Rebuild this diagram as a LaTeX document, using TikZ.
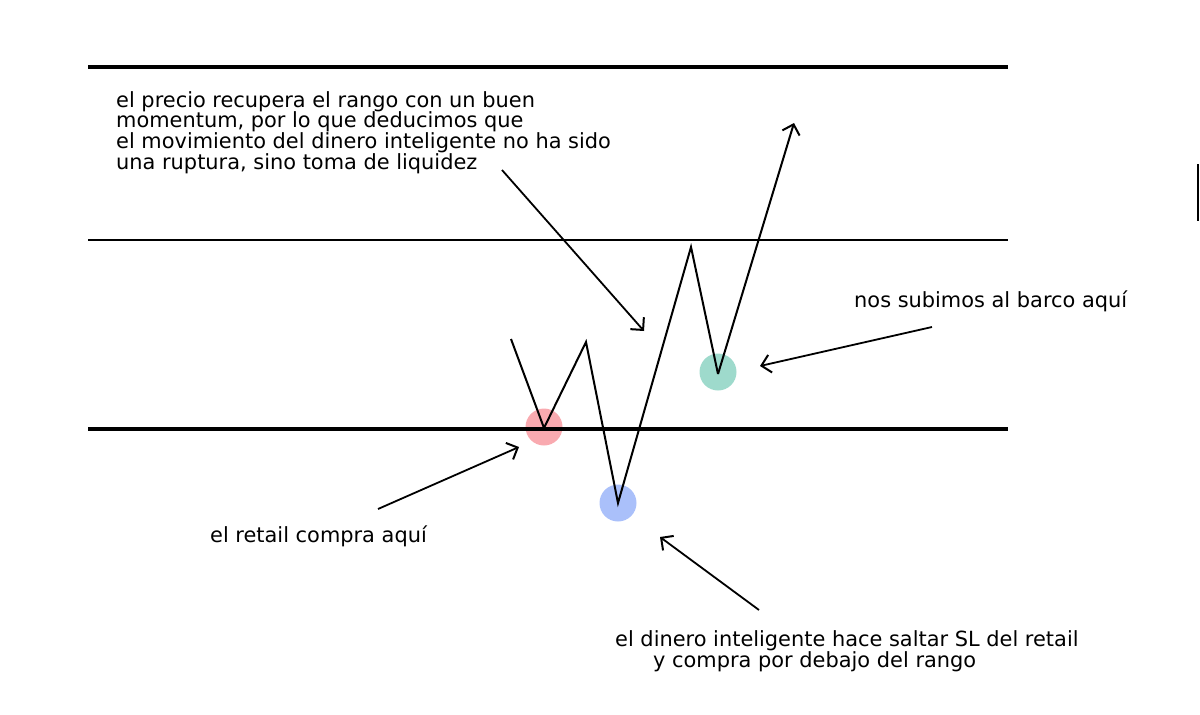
\documentclass[tikz,border=0pt]{standalone}
\usepackage{fontspec}
\setmainfont{DejaVu Sans}
\usepackage{tikz}
\usetikzlibrary{arrows.meta,positioning}

\begin{document}
\begin{tikzpicture}[
    x=1pt, y=-1pt,
    level/.style={line width=3.5pt},
    mid/.style={line width=1.5pt},
    price/.style={line width=2pt, line join=miter},
    pointer/.style={-{Straight Barb[length=9pt, width=18pt, line width=2pt]}, line width=1.8pt},
    spot/.style={circle, minimum size=37pt, inner sep=0pt},
    txt/.style={font=\fontsize{20.9}{20.8}\selectfont, inner sep=0pt, align=left},
  ]
  \useasboundingbox (0,0) rectangle (1200,715);
  \definecolor{spotred}{RGB}{249,170,176}
  \definecolor{spotblue}{RGB}{170,192,250}
  \definecolor{spotteal}{RGB}{158,218,204}
  \node[spot, fill=spotred] (retail) at (544,427) {};
  \node[spot, fill=spotblue] (sweep) at (618,503) {};
  \node[spot, fill=spotteal] (entry) at (718,372) {};
  \coordinate (hiL) at (88,67);
  \coordinate (hiR) at (1008,67);
  \coordinate (mdL) at (88,240);
  \coordinate (mdR) at (1008,240);
  \coordinate (loL) at (88,429);
  \coordinate (loR) at (1008,429);
  \draw[level] (hiL) -- (hiR);
  \draw[mid] (mdL) -- (mdR);
  \draw[level] (loL) -- (loR);
  \coordinate (p0) at (511,339);
  \coordinate (p1) at (544,428);
  \coordinate (p2) at (586,342);
  \coordinate (p3) at (618,503);
  \coordinate (p4) at (691,247);
  \coordinate (p5) at (718,374);
  \coordinate (p6) at (794,123);
  \draw[price] (p0) -- (p1) -- (p2) -- (p3) -- (p4) -- (p5);
  \draw[price, -{Straight Barb[length=9pt, width=18pt, line width=2pt]}] (p5) -- (p6);
  \node[txt, anchor=north west] (story) at (116,91) {el precio recupera el rango con un buen\\momentum, por lo que deducimos que\\el movimiento del dinero inteligente no ha sido\\una ruptura, sino toma de liquidez};
  \node[txt, anchor=base west] (board) at (854,307) {nos subimos al barco aquí};
  \node[txt, anchor=base west] (buy) at (210,542) {el retail compra aquí};
  \node[txt, anchor=base west] (smart) at (615,667) {el dinero inteligente hace saltar SL del retail\\\hspace*{38pt}y compra por debajo del rango};
  \coordinate (storyA) at (502,170);
  \coordinate (storyB) at (644,331);
  \coordinate (boardA) at (932,327);
  \coordinate (boardB) at (760,366);
  \coordinate (buyA) at (378,509);
  \coordinate (buyB) at (519,447);
  \coordinate (smartA) at (759,610);
  \coordinate (smartB) at (660,537);
  \draw[pointer] (storyA) -- (storyB);
  \draw[pointer] (boardA) -- (boardB);
  \draw[pointer] (buyA) -- (buyB);
  \draw[pointer] (smartA) -- (smartB);
  \coordinate (barT) at (1198,164);
  \coordinate (barB) at (1198,221);
  \draw[line width=2.5pt] (barT) -- (barB);
\end{tikzpicture}
\end{document}
